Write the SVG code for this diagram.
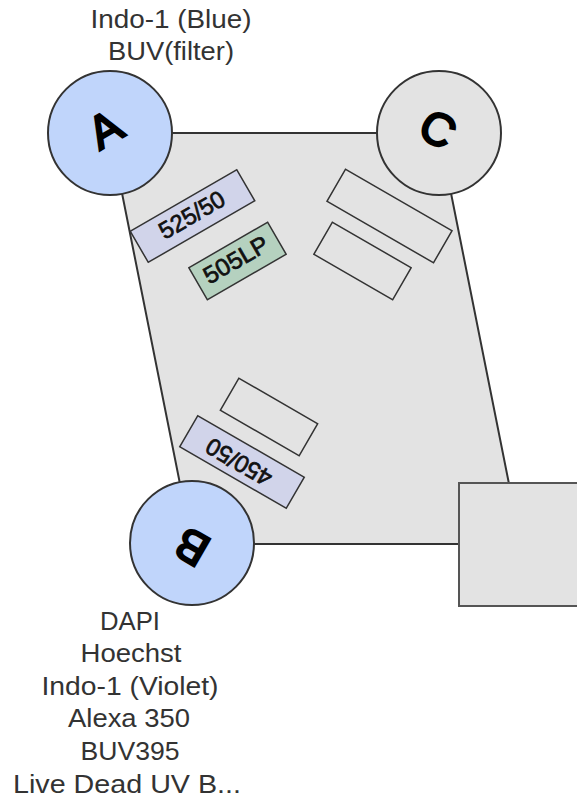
<svg xmlns="http://www.w3.org/2000/svg" width="577" height="800" viewBox="0 0 577 800">
<style>
text{font-family:"Liberation Sans",Arial,sans-serif;fill:#000;text-anchor:middle}
.lab{font-size:25px;fill:#333}
.c{stroke:#333;stroke-width:2}
.r{stroke:#333;stroke-width:1.5}
.big{font-size:46px;stroke:#000;stroke-width:2.4}
.f{font-size:24px;fill:#111;stroke:#111;stroke-width:.7}
</style>
<rect width="577" height="800" fill="#fff"/>
<g id="connectors">
<path d="M110 133H439L521 544H192Z" fill="#e3e3e3" stroke="#333" stroke-width="2"/>
</g>
<g id="filter-525-50"><rect class="r" x="-61.500" y="-18" width="123" height="36" fill="#d1d4ea" transform="translate(192.500 216) rotate(-30)"/><text class="f" transform="translate(192 215) rotate(-30)" y="8" textLength="72" lengthAdjust="spacingAndGlyphs">525/50</text></g>
<g id="filter-505LP"><rect class="r" x="-45.500" y="-18.500" width="91" height="37" fill="#b5d1bf" transform="translate(237.500 261) rotate(-30)"/><text class="f" transform="translate(236 260) rotate(-30)" y="8" textLength="71" lengthAdjust="spacingAndGlyphs">505LP</text></g>
<g id="filter-c1"><rect class="r" x="-61.500" y="-18.500" width="123" height="37" fill="#e3e3e3" transform="translate(389.500 216) rotate(30)"/></g>
<g id="filter-c2"><rect class="r" x="-45.500" y="-18.500" width="91" height="37" fill="#e3e3e3" transform="translate(362.500 261) rotate(30)"/></g>
<g id="filter-b1"><rect class="r" x="-45.500" y="-18.500" width="91" height="37" fill="#e3e3e3" transform="translate(269 417) rotate(30)"/></g>
<g id="filter-450-50"><rect class="r" x="-61.500" y="-18" width="123" height="36" fill="#d1d4ea" transform="translate(242 462) rotate(30)"/><text class="f" transform="translate(239 462) rotate(210)" y="8" textLength="72" lengthAdjust="spacingAndGlyphs">450/50</text></g>
<g id="node-a"><circle class="c" cx="110" cy="133" r="62" fill="#c0d5fb"/><text class="big" transform="translate(105 129) rotate(-30)" y="16">A</text>
<text class="lab" x="171" y="28" textLength="161" lengthAdjust="spacingAndGlyphs">Indo-1 (Blue)</text><text class="lab" x="171" y="60" textLength="126" lengthAdjust="spacingAndGlyphs">BUV(filter)</text></g>
<g id="node-c"><circle class="c" cx="439" cy="133" r="62" fill="#e3e3e3"/><text class="big" transform="translate(438 129) rotate(30)" y="16">C</text></g>
<g id="node-b"><circle class="c" cx="192" cy="543" r="62" fill="#c0d5fb"/><text class="big" transform="translate(192 547) rotate(210)" y="16">B</text></g>
<g id="node-d"><rect x="459" y="483" width="130" height="123" fill="#e3e3e3" stroke="#555" stroke-width="2"/></g>
<g id="labels-b">
<text class="lab" x="130" y="630" textLength="60" lengthAdjust="spacingAndGlyphs">DAPI</text>
<text class="lab" x="131" y="662" textLength="101" lengthAdjust="spacingAndGlyphs">Hoechst</text>
<text class="lab" x="130" y="695" textLength="177" lengthAdjust="spacingAndGlyphs">Indo-1 (Violet)</text>
<text class="lab" x="129" y="727" textLength="122" lengthAdjust="spacingAndGlyphs">Alexa 350</text>
<text class="lab" x="130" y="760" textLength="99" lengthAdjust="spacingAndGlyphs">BUV395</text>
<text class="lab" x="127" y="793" textLength="228" lengthAdjust="spacingAndGlyphs">Live Dead UV B...</text>
</g>
</svg>
